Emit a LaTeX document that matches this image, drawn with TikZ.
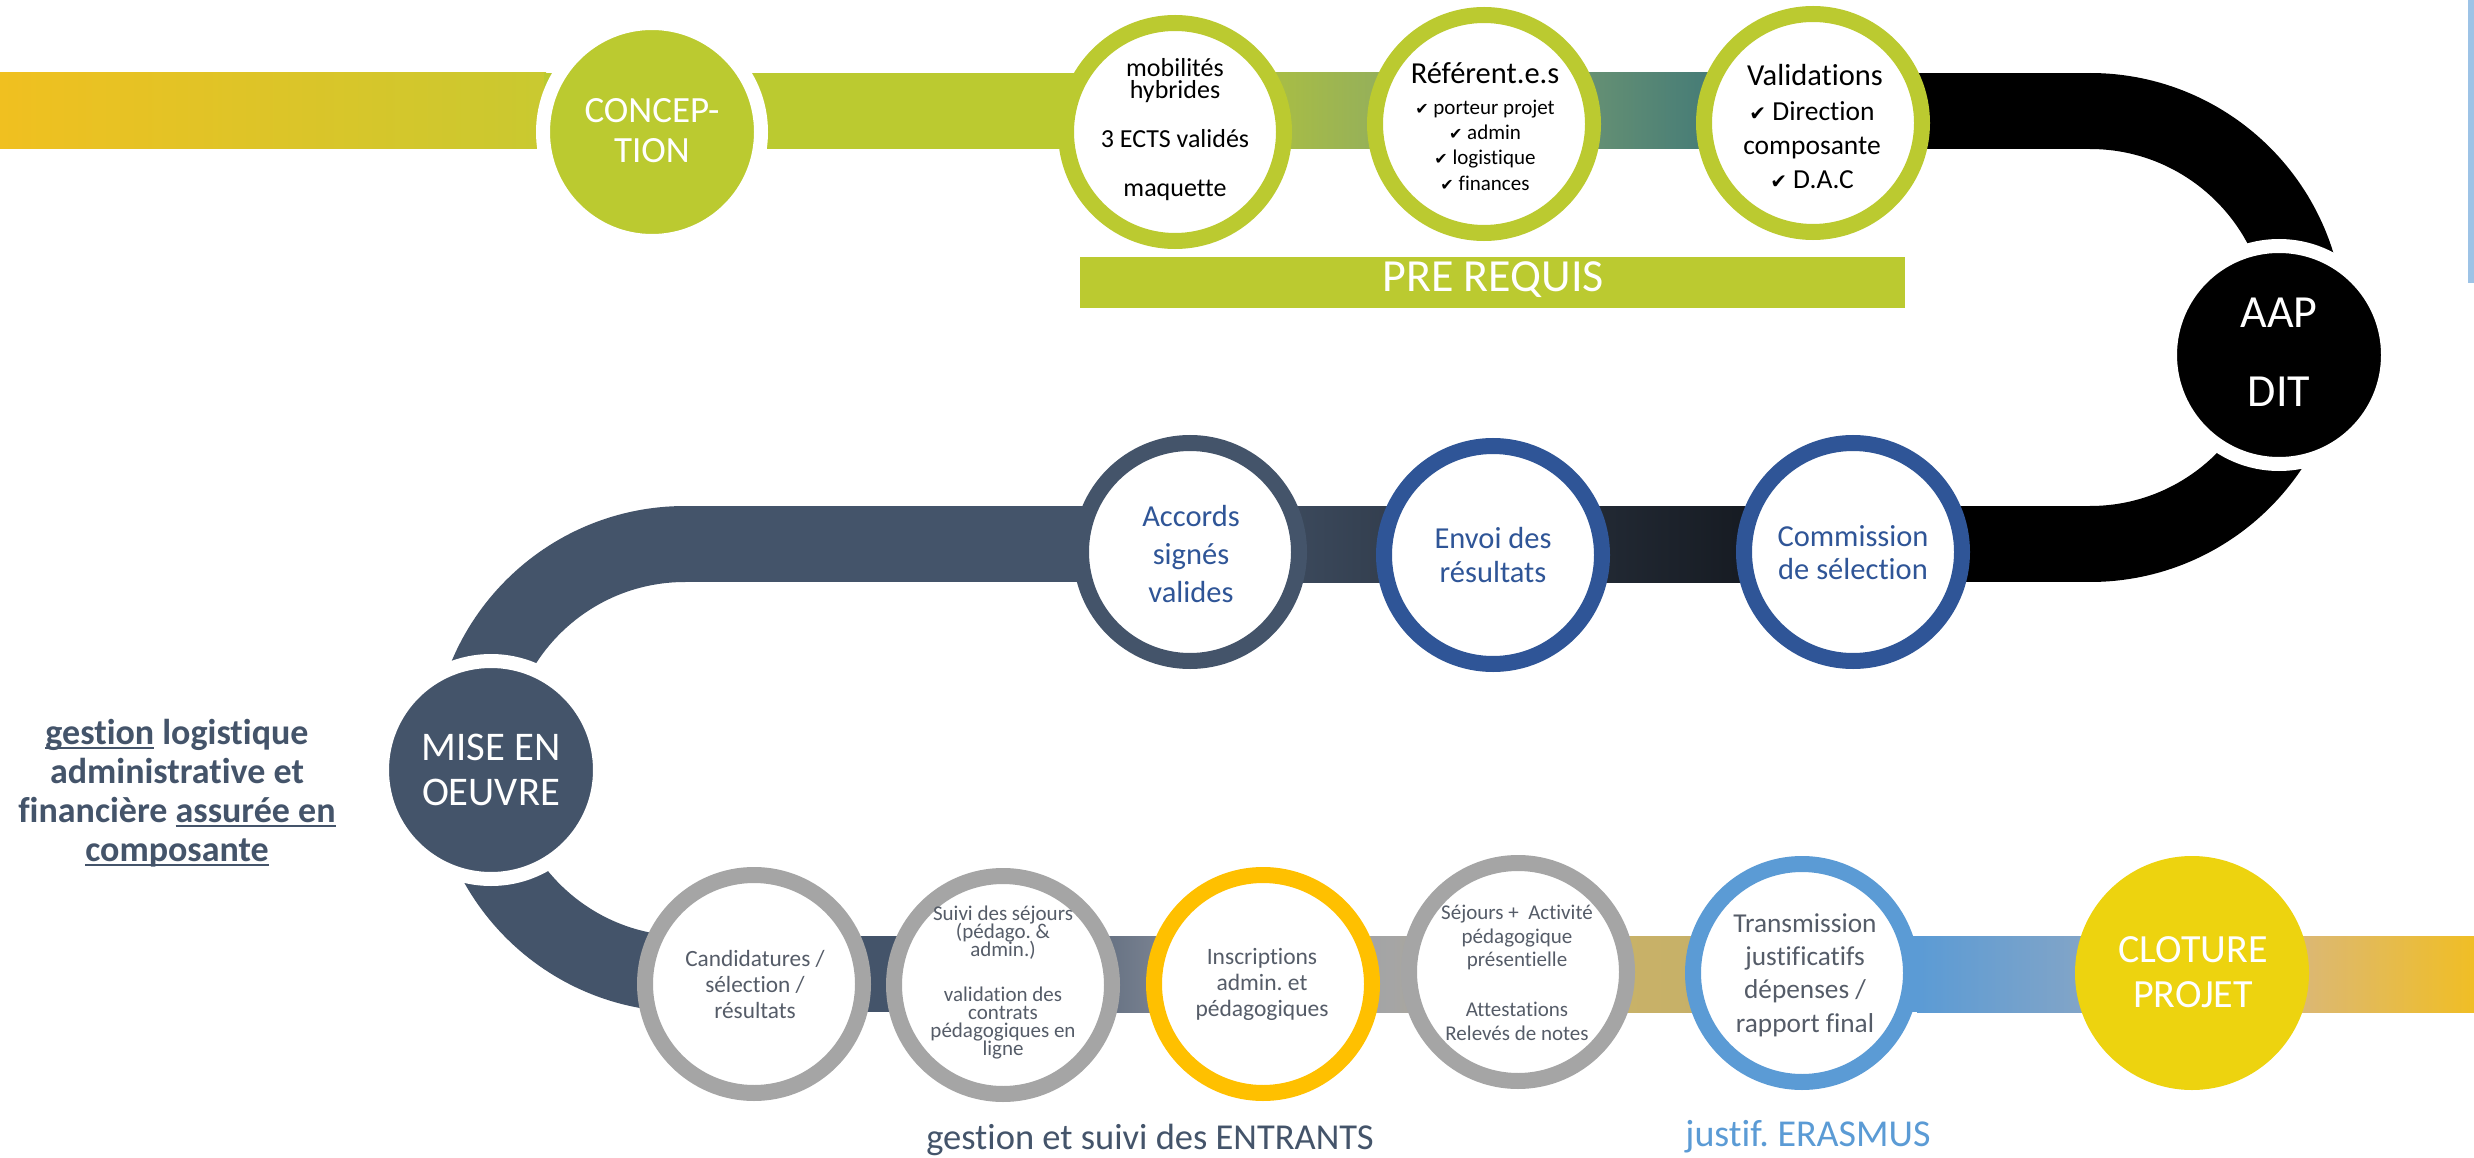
\documentclass[tikz,border=0pt]{standalone}
\usepackage{fontspec}
\setmainfont{Carlito}[Ligatures=NoCommon]
\newfontfamily\dv{DejaVu Sans}
\newsavebox\ubox
\newcommand{\undl}[1]{\sbox\ubox{#1}\rlap{\rule[-5pt]{\wd\ubox}{2.2pt}}\usebox\ubox}
\lineskiplimit=-\maxdimen
\frenchspacing
\definecolor{cGreen}{HTML}{BBCA30}
\definecolor{cYelL}{HTML}{F0C020}
\definecolor{cSlate}{HTML}{44546A}
\definecolor{cBlue}{HTML}{2F5597}
\definecolor{cLBlue}{HTML}{5B9BD5}
\definecolor{cGray}{HTML}{A5A5A5}
\definecolor{cOrange}{HTML}{FFC000}
\definecolor{cYel}{HTML}{EDD30F}
\definecolor{cTxt}{HTML}{555C68}
\definecolor{cLine}{HTML}{9DC3E6}
\definecolor{tA}{HTML}{C9C930}
\definecolor{tB}{HTML}{81A270}
\definecolor{tC}{HTML}{2A6A7A}
\definecolor{mA}{HTML}{2A3340}
\definecolor{mB}{HTML}{0E1116}
\definecolor{bA}{HTML}{9CA0AA}
\definecolor{bB}{HTML}{C0AE78}
\definecolor{bC}{HTML}{C9B466}
\definecolor{bD}{HTML}{C6AE6A}
\definecolor{bE}{HTML}{9CABBE}
\definecolor{bF}{HTML}{CEB4A7}
\definecolor{bG}{HTML}{F0BE25}
\newcommand{\chk}[1]{{\dv\fontsize{#1}{10}\selectfont ✔}}
\begin{document}
\begin{tikzpicture}[x=1pt,y=-1pt,
  ring/.style={circle, draw=#1, line width=16pt, fill=white, minimum size=218pt, inner sep=0pt},
  disc/.style={circle, fill=#1, draw=white, line width=14pt, minimum size=218pt, inner sep=0pt},
  txt/.style={align=center, inner sep=0pt},
  ]
\useasboundingbox (0,0) rectangle (2474,1158);
\fill[white] (0,0) rectangle (2474,1158);

% ---------- top band ----------
\shade[left color=cYelL, right color=tA] (0,73) rectangle (546,149);
\fill[cGreen] (544,73) rectangle (1176,149);
\shade[left color=cGreen, right color=tB] (1175,73) rectangle (1485,149);
\shade[left color=tB, right color=tC] (1484,73) rectangle (1814,149);
\fill[black] (1813,73) rectangle (2091,149);
\draw[black, line width=76pt] (2090,111) arc[start angle=-90, end angle=90, radius=216.5];

% ---------- middle band ----------
\fill[black] (1853,506) rectangle (2091,582);
\shade[left color=mA, right color=mB] (1493,506) rectangle (1854,582);
\shade[left color=cSlate, right color=mA] (1190,506) rectangle (1494,582);
\fill[cSlate] (684,506) rectangle (1191,582);
\draw[cSlate, line width=76pt] (685,544) arc[start angle=270, end angle=90, radius=215];

% ---------- bottom band ----------
\fill[cSlate] (684,936) rectangle (1004,1012);
\shade[left color=cSlate, right color=bA] (1003,936) rectangle (1264,1012);
\shade[left color=bA, right color=cGray] (1263,936) rectangle (1393,1012);
\shade[left color=cGray, right color=bB] (1392,936) rectangle (1519,1012);
\shade[left color=bC, right color=bD] (1518,936) rectangle (1803,1012);
\fill[cLBlue] (1802,936) rectangle (1918,1012);
\shade[left color=cLBlue, right color=bE] (1917,936) rectangle (2193,1012);
\shade[left color=bF, right color=bG] (2192,936) rectangle (2474,1012);

% ---------- light blue edge line ----------
\fill[cLine] (2468,0) rectangle (2474,283);

% ---------- circles ----------
\node[disc=cGreen] (conc) at (652,132) {};
\node[ring=cGreen] (mob) at (1175,132) {};
\node[ring=cGreen] (ref) at (1484,124) {};
\node[ring=cGreen] (val) at (1813,123) {};
\node[disc=black] (aap) at (2279,355) {};
\node[ring=cSlate] (acc) at (1190,552) {};
\node[ring=cBlue] (env) at (1493,555) {};
\node[ring=cBlue] (com) at (1853,552) {};
\node[disc=cSlate] (mise) at (491,770) {};
\node[ring=cGray] (cand) at (754,984) {};
\node[ring=cGray] (suiv) at (1003,985) {};
\node[ring=cOrange] (insc) at (1263,984) {};
\node[ring=cGray] (sej) at (1518,972) {};
\node[ring=cLBlue] (trans) at (1802,973) {};
\node[circle, fill=cYel, minimum size=234pt, inner sep=0pt] (clot) at (2192,973) {};

% ---------- PRE REQUIS ----------
\fill[cGreen] (1080,257) rectangle (1905,308);
\node[txt, text=white, font={\fontsize{46}{46}\selectfont}] (pre) at (1493,280) {PRE REQUIS};

% ---------- texts ----------
\node[txt, text=white, font={\fontsize{37}{40}\selectfont}] (tconc) at (652,131) {CONCEP-\\TION};
\node[txt, text=black, font={\fontsize{26}{22}\selectfont}] (tmob) at (1175,130)
  {mobilités\\hybrides\\[27pt]3 ECTS validés\\[27pt]maquette};
\node[txt, text=black, font={\fontsize{30.5}{30.5}\selectfont}] (tref) at (1485,73) {Référent.e.s};
\node[txt, text=black, font={\fontsize{21}{25.3}\selectfont}] (tref2) at (1485,145)
  {\chk{16}\ porteur projet\\\chk{16}\ admin\\\chk{16}\ logistique\\\chk{16}\ finances};
\node[txt, text=black, font={\fontsize{30.5}{30.5}\selectfont}] (tval) at (1815,75) {Validations};
\node[txt, text=black, font={\fontsize{27.5}{33.75}\selectfont}] (tval2) at (1812,145)
  {\chk{20}\ Direction\\composante\\\chk{20}\ D.A.C};
\node[txt, text=white, font={\fontsize{46}{79}\selectfont}] (taap) at (2279,352) {AAP\\DIT};
\node[txt, text=cBlue, font={\fontsize{30.5}{38}\selectfont}] (tacc) at (1191,554) {Accords\\signés\\valides};
\node[txt, text=cBlue, font={\fontsize{30.5}{34}\selectfont}] (tenv) at (1493,555) {Envoi des\\résultats};
\node[txt, text=cBlue, font={\fontsize{30.5}{33}\selectfont}] (tcom) at (1853,553) {Commission\\de sélection};
\node[txt, text=white, font={\fontsize{40.7}{45}\selectfont}] (tmise) at (491,770) {MISE EN\\OEUVRE};
\node[txt, text=cSlate, font={\bfseries\fontsize{36}{39}\selectfont}] (tleft) at (177,793)
  {\undl{gestion} logistique\\administrative et\\financière \undl{assurée en}\\\undl{composante}};
\node[txt, text=cTxt, font={\fontsize{23.3}{26}\selectfont}] (tcand) at (755,984) {Candidatures /\\sélection /\\résultats};
\node[txt, text=cTxt, font={\fontsize{21}{18}\selectfont}] (tsuiv) at (1003,983)
  {Suivi des séjours\\(pédago. \&\\admin.)\\[27pt]validation des\\contrats\\pédagogiques en\\ligne};
\node[txt, text=cTxt, font={\fontsize{23.5}{26}\selectfont}] (tinsc) at (1262,984) {Inscriptions\\admin. et\\pédagogiques};
\node[txt, text=cTxt, font={\fontsize{21}{23.5}\selectfont}] (tsej) at (1517,973)
  {Séjours +\ \ Activité\\pédagogique\\présentielle\\[26.5pt]Attestations\\Relevés de notes};
\node[txt, text=cTxt, font={\fontsize{27.3}{33.3}\selectfont}] (ttrans) at (1805,975)
  {Transmission\\justificatifs\\dépenses /\\rapport final};
\node[txt, text=white, font={\fontsize{40}{45}\selectfont}] (tclot) at (2193,972) {CLOTURE\\PROJET};
\node[txt, text=cSlate, font={\fontsize{36.5}{36.5}\selectfont}] (tentr) at (1150,1140) {gestion et suivi des ENTRANTS};
\node[txt, text=cLBlue, font={\fontsize{38}{38}\selectfont}] (teras) at (1808,1137) {justif. ERASMUS};
\end{tikzpicture}
\end{document}
